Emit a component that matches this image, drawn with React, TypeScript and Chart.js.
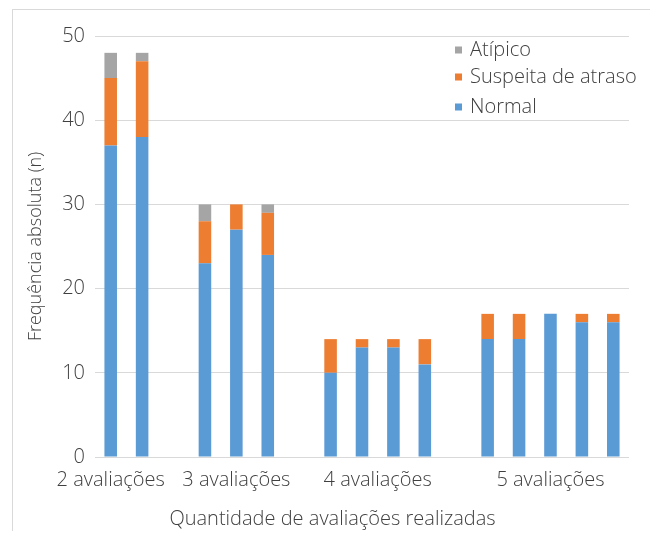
import React, { useEffect, useRef } from 'react';
import { Chart, registerables } from 'chart.js';

Chart.register(...registerables);

const groupLabels = ['2 avaliações', '3 avaliações', '4 avaliações', '5 avaliações'];
const seriesNames = ['Normal', 'Suspeita de atraso', 'Atípico'];
const normalValues = [[37, 38], [23, 27, 24], [10, 13, 13, 11], [14, 14, 17, 16, 16]];
const suspeitaValues = [[8, 9], [5, 3, 5], [4, 1, 1, 3], [3, 3, 0, 1, 1]];
const atipicoValues = [[3, 1], [2, 0, 1], [0, 0, 0, 0], [0, 0, 0, 0, 0]];
const yTickValues = [0, 10, 20, 30, 40, 50];
const xTitle = 'Quantidade de avaliações realizadas';
const yTitle = 'Frequência absoluta (n)';

const colors = ['#5B9BD5', '#ED7D31', '#A5A5A5'];
const FONT = "'Open Sans', 'DejaVu Sans', sans-serif";
const TEXT = '#404040';

function flatten(groups: number[][]): (number | null)[] {
  const out: (number | null)[] = [];
  groups.forEach((g, gi) => {
    g.forEach((v) => out.push(v));
    if (gi < groups.length - 1) out.push(null);
  });
  return out;
}

function slotNames(): string[] {
  const out: string[] = [];
  normalValues.forEach((g, gi) => {
    g.forEach((_, i) => out.push(groupLabels[gi] + ' #' + (i + 1)));
    if (gi < normalValues.length - 1) out.push('');
  });
  return out;
}

function groupLabelSlots(): number[] {
  const pos: number[] = [];
  let start = 0;
  normalValues.forEach((g, gi) => {
    const n = g.length;
    pos.push(gi === 0 ? start : start + (n - 1) / 2);
    start += n + 1;
  });
  return pos;
}

const legendPlugin = {
  id: 'customLegend',
  afterDraw(chart: any) {
    const ctx = chart.ctx;
    const x0 = 442;
    const ys = [40, 67, 97];
    ctx.save();
    ctx.font = `300 20px ${FONT}`;
    ctx.textBaseline = 'middle';
    ctx.textAlign = 'left';
    const ds = chart.data.datasets.slice().reverse();
    ds.forEach((d: any, i: number) => {
      ctx.fillStyle = d.backgroundColor;
      ctx.fillRect(x0, ys[i] - 3.5, 7, 7);
      ctx.fillStyle = TEXT;
      ctx.fillText(d.label, x0 + 15, ys[i]);
    });
    ctx.restore();
  },
};

export default function App() {
  const ref = useRef<HTMLCanvasElement | null>(null);
  useEffect(() => {
    if (!ref.current) return;
    const labels = slotNames();
    const n = labels.length;
    const labelPos = groupLabelSlots();
    const series = [normalValues, suspeitaValues, atipicoValues];
    const chart = new Chart(ref.current, {
      type: 'bar',
      data: {
        labels,
        datasets: series.map((s, i) => ({
          label: seriesNames[i],
          data: flatten(s),
          backgroundColor: colors[i],
          borderWidth: 0,
          xAxisID: 'x',
          yAxisID: 'y',
          categoryPercentage: 1,
          barPercentage: 0.4,
        })),
      },
      options: {
        animation: false,
        responsive: false,
        devicePixelRatio: 1,
        layout: { padding: { top: 26, right: 23, left: 23, bottom: 0 } },
        plugins: {
          legend: { display: false },
          tooltip: { enabled: false },
          title: {
            display: true,
            text: xTitle,
            position: 'bottom',
            color: TEXT,
            font: { family: FONT, size: 20, weight: '300' },
            padding: { top: 4, bottom: 1 },
          },
        },
        scales: {
          x: {
            type: 'category',
            display: false,
            stacked: true,
            offset: true,
          },
          xl: {
            type: 'linear',
            position: 'bottom',
            offset: false,
            min: -0.5,
            max: n - 0.5,
            grid: { display: false, drawTicks: false, offset: false },
            border: { display: false },
            afterBuildTicks: (scale: any) => {
              scale.ticks = labelPos.map((v) => ({ value: v }));
            },
            ticks: {
              autoSkip: false,
              maxRotation: 0,
              padding: 11,
              color: TEXT,
              font: { family: FONT, size: 20, weight: '300' },
              callback: (_v: any, i: number) => groupLabels[i],
            },
          },
          y: {
            type: 'linear',
            stacked: true,
            min: 0,
            max: 50,
            afterBuildTicks: (scale: any) => {
              scale.ticks = yTickValues.map((v) => ({ value: v }));
            },
            afterFit: (scale: any) => {
              scale.width = 59;
            },
            grid: { color: '#D9D9D9', lineWidth: 1, drawTicks: false },
            border: { display: false },
            ticks: {
              padding: 10,
              color: TEXT,
              font: { family: FONT, size: 20, weight: '300' },
            },
            title: {
              display: true,
              text: yTitle,
              color: TEXT,
              font: { family: FONT, size: 18, weight: '300' },
              padding: { top: -11, bottom: 0 },
            },
          },
        },
      },
      plugins: [legendPlugin],
    } as any);
    return () => chart.destroy();
  }, []);

  return (
    <div
      style={{
        position: 'relative',
        top: 1,
        left: 4,
        width: 639,
        height: 522,
        borderTop: '1px solid #D9D9D9',
        borderLeft: '1px solid #D9D9D9',
        borderRight: '1px solid #D9D9D9',
      }}
    >
      <canvas ref={ref} width={639} height={522} style={{ display: 'block', width: 639, height: 522 }} />
    </div>
  );
}
